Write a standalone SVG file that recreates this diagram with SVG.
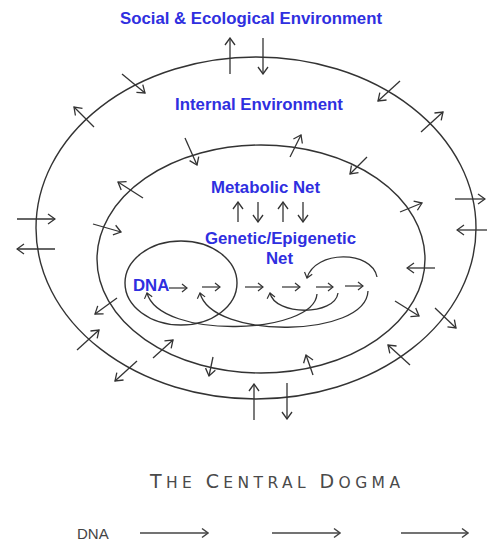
<svg xmlns="http://www.w3.org/2000/svg" width="487" height="545" viewBox="0 0 487 545">
<style>
.ring{fill:none;stroke:#333;stroke-width:1.4}
.ar{fill:none;stroke:#333;stroke-width:1.3;marker-end:url(#ah)}
.sm{fill:none;stroke:#333;stroke-width:1.2;marker-end:url(#ahs)}
.cv{fill:none;stroke:#333;stroke-width:1.3;marker-end:url(#ahs)}
.bt{fill:none;stroke:#444;stroke-width:1.5;marker-end:url(#ahb)}
.lbl{font-family:"Liberation Sans",Arial,sans-serif;font-weight:bold;font-size:16.8px;fill:#2f2fe0;text-anchor:middle}
</style>
<defs>
<marker id="ah" viewBox="-9 -6 10 12" refX="0" refY="0" markerWidth="10" markerHeight="12" orient="auto" markerUnits="userSpaceOnUse"><path d="M-7,-5 L0,0 L-7,5" fill="none" stroke="#333" stroke-width="1.3"/></marker>
<marker id="ahs" viewBox="-7 -5 8 10" refX="0" refY="0" markerWidth="8" markerHeight="10" orient="auto" markerUnits="userSpaceOnUse"><path d="M-5,-4 L0,0 L-5,4" fill="none" stroke="#333" stroke-width="1.2"/></marker>
<marker id="ahb" viewBox="-8 -6 9 12" refX="0" refY="0" markerWidth="9" markerHeight="12" orient="auto" markerUnits="userSpaceOnUse"><path d="M-6,-4.5 L0,0 L-6,4.5" fill="none" stroke="#444" stroke-width="1.5"/></marker>
</defs>
<rect width="487" height="545" fill="#fff"/>

<g id="outer-environment">
<ellipse class="ring" cx="256" cy="228" rx="220" ry="171"/>
<text class="lbl" x="251" y="24">Social &amp; Ecological Environment</text>
</g>
<g id="internal-environment">
<ellipse class="ring" cx="261" cy="259" rx="164" ry="114"/>
<text class="lbl" x="259" y="110">Internal Environment</text>
</g>
<g id="metabolic-net">
<text class="lbl" x="265.5" y="193">Metabolic Net</text>
</g>
<g id="genetic-net">
<text class="lbl" x="280.5" y="244">Genetic/Epigenetic</text>
<text class="lbl" x="279.5" y="264">Net</text>
</g>
<g id="dna-loop">
<ellipse class="ring" cx="181" cy="283" rx="56" ry="42"/>
<text class="lbl" x="133" y="291" style="text-anchor:start">DNA</text>
</g>

<g id="connectors">
<line class="ar" x1="230" y1="74" x2="230" y2="38"/>
<line class="ar" x1="263" y1="38" x2="263" y2="74"/>
<line class="ar" x1="122" y1="74" x2="145" y2="93"/>
<line class="ar" x1="94" y1="127" x2="74" y2="107"/>
<line class="ar" x1="400" y1="81" x2="378" y2="101"/>
<line class="ar" x1="421" y1="132" x2="443" y2="112"/>
<line class="ar" x1="185" y1="138" x2="197" y2="165"/>
<line class="ar" x1="290" y1="157" x2="301" y2="135"/>
<line class="ar" x1="367" y1="157" x2="350" y2="174"/>
<line class="ar" x1="143" y1="198" x2="118" y2="182"/>
<line class="ar" x1="17" y1="219" x2="55" y2="219"/>
<line class="ar" x1="55" y1="249" x2="17" y2="249"/>
<line class="ar" x1="93" y1="224" x2="121" y2="232"/>
<line class="ar" x1="400" y1="212" x2="422" y2="203"/>
<line class="ar" x1="455" y1="199" x2="485" y2="199"/>
<line class="ar" x1="487" y1="230" x2="457" y2="230"/>
<line class="ar" x1="435" y1="268" x2="407" y2="268"/>
<line class="ar" x1="395" y1="301" x2="419" y2="316"/>
<line class="ar" x1="435" y1="308" x2="456" y2="328"/>
<line class="ar" x1="117" y1="298" x2="95" y2="314"/>
<line class="ar" x1="77" y1="350" x2="99" y2="330"/>
<line class="ar" x1="153" y1="358" x2="173" y2="340"/>
<line class="ar" x1="137" y1="361" x2="115" y2="381"/>
<line class="ar" x1="213" y1="357" x2="209" y2="376"/>
<line class="ar" x1="313" y1="375" x2="306" y2="355"/>
<line class="ar" x1="410" y1="365" x2="388" y2="345"/>
<line class="ar" x1="254" y1="420" x2="254" y2="384"/>
<line class="ar" x1="287" y1="383" x2="287" y2="419"/>

<line class="ar" x1="238" y1="222" x2="238" y2="202"/>
<line class="ar" x1="258" y1="202" x2="258" y2="222"/>
<line class="ar" x1="283" y1="222" x2="283" y2="202"/>
<line class="ar" x1="303" y1="202" x2="303" y2="222"/>

<line class="sm" x1="169" y1="288" x2="187" y2="288"/>
<line class="sm" x1="202" y1="287" x2="220" y2="287"/>
<line class="sm" x1="245" y1="287" x2="263" y2="287"/>
<line class="sm" x1="282" y1="287" x2="300" y2="287"/>
<line class="sm" x1="316" y1="287" x2="333" y2="287"/>
<line class="sm" x1="345" y1="286" x2="363" y2="286"/>

<path class="cv" d="M317,294 C314,335 160,340 147,293"/>
<path class="cv" d="M368,291 C366,338 212,340 200,293"/>
<path class="cv" d="M338,293 C335,316 275,316 270,293"/>
<path class="cv" d="M377,277 C372,250 315,250 307,278"/>

<line class="bt" x1="140" y1="533" x2="208" y2="533"/>
<line class="bt" x1="272" y1="533" x2="340" y2="533"/>
<line class="bt" x1="401" y1="533" x2="468" y2="533"/>
</g>

<g id="central-dogma">
<text x="150" y="488" textLength="250" lengthAdjust="spacing" font-family="'DejaVu Sans',Verdana,sans-serif" fill="#4a4a4a"><tspan font-size="19">T</tspan><tspan font-size="15.5">HE </tspan><tspan font-size="19">C</tspan><tspan font-size="15.5">ENTRAL </tspan><tspan font-size="19">D</tspan><tspan font-size="15.5">OGMA</tspan></text>
<text x="77" y="539" font-family="'Liberation Sans',Arial,sans-serif" font-size="15" fill="#444">DNA</text>
</g>
</svg>
